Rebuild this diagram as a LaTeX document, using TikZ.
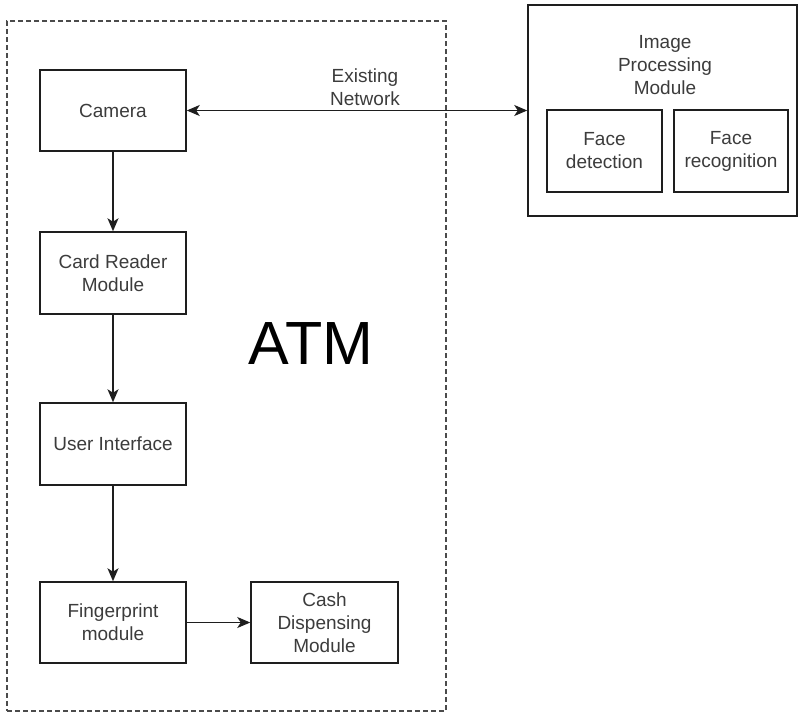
\documentclass[tikz,border=0pt]{standalone}
\usepackage{fontspec}
\setmainfont{Liberation Sans}
\usetikzlibrary{arrows.meta}
\definecolor{inkline}{RGB}{30,30,30}
\definecolor{inktext}{RGB}{60,60,60}
\tikzset{
  tip/.tip={Stealth[length=13pt,width=11pt,inset=3.5pt]},
  blockbox/.style={draw=inkline, line width=1.5pt, align=center, text=inktext,
    font=\fontsize{19}{23}\selectfont, inner sep=0pt},
  flow/.style={draw=inkline, line width=1.4pt, -tip},
  lbl/.style={align=center, text=inktext, font=\fontsize{19}{23}\selectfont, inner sep=0pt}
}
\begin{document}
\begin{tikzpicture}[x=1pt,y=-1pt]
\useasboundingbox (0,0) rectangle (798,713);
\fill[white] (0,0) rectangle (798,713);

% ATM enclosure
\node[draw=inkline!80, line width=1.3pt, dash pattern=on 5pt off 3pt,
      minimum width=439pt, minimum height=690pt, inner sep=0pt] (atm) at (226.5,366) {};
\node[font=\fontsize{61}{70}\selectfont, text=black, inner sep=0pt] (atmlbl) at (311,344) {ATM};

% ATM components
\node[blockbox, minimum width=146pt, minimum height=81pt] (cam) at (113,110.5) {Camera};
\node[blockbox, minimum width=146pt, minimum height=82pt] (card) at (113,273) {Card Reader\\Module};
\node[blockbox, minimum width=146pt, minimum height=82pt] (ui) at (113,444) {User Interface};
\node[blockbox, minimum width=146pt, minimum height=81pt] (fp) at (113,622.5) {Fingerprint\\module};
\node[blockbox, minimum width=147pt, minimum height=81pt] (cash) at (324.5,622.5) {Cash\\Dispensing\\Module};

% Image processing server
\node[draw=inkline, line width=1.5pt, minimum width=269pt, minimum height=211pt, inner sep=0pt] (ipm) at (662.5,110.5) {};
\node[lbl] (ipmlbl) at (665,65) {Image\\Processing\\Module};
\node[blockbox, minimum width=115pt, minimum height=82pt] (fd) at (604.5,151) {Face\\detection};
\node[blockbox, minimum width=114pt, minimum height=82pt] (fr) at (731,151) {Face\\recognition};

% Connections
\draw[flow, tip-tip] (cam.east) -- (ipm.west);
\node[lbl] (net) at (365,87) {Existing\\Network};
\draw[flow] (cam.south) -- (card.north);
\draw[flow] (card.south) -- (ui.north);
\draw[flow] (ui.south) -- (fp.north);
\draw[flow] (fp.east) -- (cash.west);
\end{tikzpicture}
\end{document}
